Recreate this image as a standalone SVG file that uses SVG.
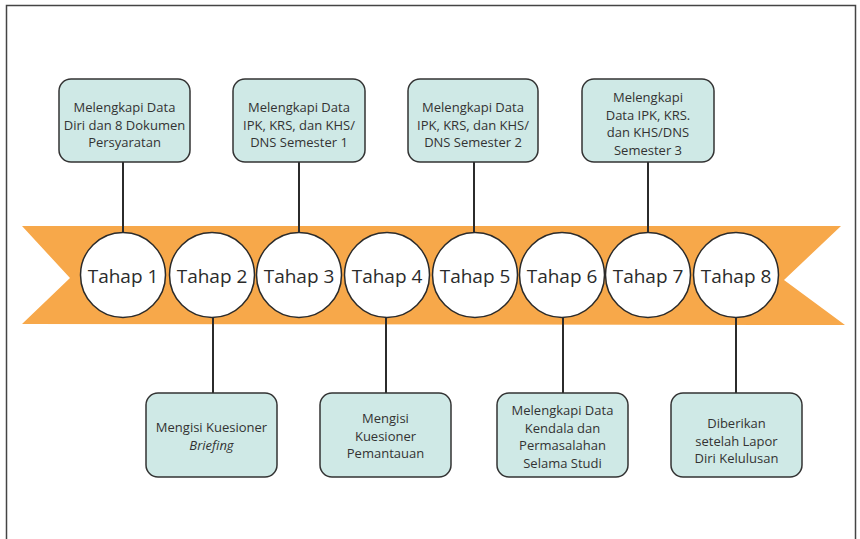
<svg xmlns="http://www.w3.org/2000/svg" width="860" height="539" viewBox="0 0 860 539">
<style>
.box{fill:#cfe9e6;stroke:#333;stroke-width:1.5}
.circ{fill:#fff;stroke:#2b2b2b;stroke-width:1.5}
.lbl{font-family:"Open Sans","Noto Sans",sans-serif;font-size:13px;fill:#333;text-anchor:middle}
.tah{font-family:"Open Sans","Noto Sans",sans-serif;font-size:19px;fill:#2b2b2b;text-anchor:middle}
.con{stroke:#2b2b2b;stroke-width:2;fill:none}
</style>
<rect width="860" height="539" fill="#fff"/>
<path d="M6.5 545 V5.5 H855.5 V545" fill="none" stroke="#444" stroke-width="1.5"/>
<polygon points="22,226 841,226 784,280 845,325 22,324 70,278" fill="#f7a84a"/>
<g id="connectors">
<line class="con" x1="123" y1="162" x2="123" y2="233"/>
<line class="con" x1="213" y1="318" x2="213" y2="393"/>
<line class="con" x1="299" y1="162" x2="299" y2="233"/>
<line class="con" x1="386" y1="318" x2="386" y2="393"/>
<line class="con" x1="474" y1="162" x2="474" y2="233"/>
<line class="con" x1="563" y1="318" x2="563" y2="393"/>
<line class="con" x1="648" y1="162" x2="648" y2="233"/>
<line class="con" x1="736" y1="318" x2="736" y2="393"/>
</g>
<g id="tahap1"><circle class="circ" cx="123" cy="275" r="42.5"/><text class="tah" x="123" y="283">Tahap 1</text></g>
<g id="tahap2"><circle class="circ" cx="212" cy="275" r="42.5"/><text class="tah" x="212" y="283">Tahap 2</text></g>
<g id="tahap3"><circle class="circ" cx="299" cy="275" r="42.5"/><text class="tah" x="299" y="283">Tahap 3</text></g>
<g id="tahap4"><circle class="circ" cx="387" cy="275" r="42.5"/><text class="tah" x="387" y="283">Tahap 4</text></g>
<g id="tahap5"><circle class="circ" cx="475" cy="275" r="42.5"/><text class="tah" x="475" y="283">Tahap 5</text></g>
<g id="tahap6"><circle class="circ" cx="562" cy="275" r="42.5"/><text class="tah" x="562" y="283">Tahap 6</text></g>
<g id="tahap7"><circle class="circ" cx="648" cy="275" r="42.5"/><text class="tah" x="648" y="283">Tahap 7</text></g>
<g id="tahap8"><circle class="circ" cx="736" cy="275" r="42.5"/><text class="tah" x="736" y="283">Tahap 8</text></g>
<g id="box1"><rect class="box" x="59" y="79" width="131" height="83" rx="12"/>
<text class="lbl" x="124.5" y="112">Melengkapi Data</text><text class="lbl" x="124.5" y="129.5">Diri dan 8 Dokumen</text><text class="lbl" x="124.5" y="147">Persyaratan</text></g>
<g id="box3"><rect class="box" x="233" y="79" width="132" height="83" rx="12"/>
<text class="lbl" x="299" y="112">Melengkapi Data</text><text class="lbl" x="299" y="129.5">IPK, KRS, dan KHS/</text><text class="lbl" x="299" y="147">DNS Semester 1</text></g>
<g id="box5"><rect class="box" x="408" y="79" width="130" height="83" rx="12"/>
<text class="lbl" x="473" y="112">Melengkapi Data</text><text class="lbl" x="473" y="129.5">IPK, KRS, dan KHS/</text><text class="lbl" x="473" y="147">DNS Semester 2</text></g>
<g id="box7"><rect class="box" x="582" y="79" width="132" height="83" rx="12"/>
<text class="lbl" x="648" y="102">Melengkapi</text><text class="lbl" x="648" y="119.5">Data IPK, KRS.</text><text class="lbl" x="648" y="137">dan KHS/DNS</text><text class="lbl" x="648" y="154.5">Semester 3</text></g>
<g id="box2"><rect class="box" x="146" y="393" width="131" height="84" rx="12"/>
<text class="lbl" x="211.5" y="432">Mengisi Kuesioner</text><text class="lbl" x="211.5" y="449.5" font-style="italic">Briefing</text></g>
<g id="box4"><rect class="box" x="320" y="393" width="131" height="84" rx="12"/>
<text class="lbl" x="385.5" y="423">Mengisi</text><text class="lbl" x="385.5" y="440.5">Kuesioner</text><text class="lbl" x="385.5" y="458">Pemantauan</text></g>
<g id="box6"><rect class="box" x="497" y="393" width="131" height="84" rx="12"/>
<text class="lbl" x="562.5" y="415">Melengkapi Data</text><text class="lbl" x="562.5" y="432.5">Kendala dan</text><text class="lbl" x="562.5" y="450">Permasalahan</text><text class="lbl" x="562.5" y="467.5">Selama Studi</text></g>
<g id="box8"><rect class="box" x="671" y="393" width="131" height="84" rx="12"/>
<text class="lbl" x="736.5" y="428">Diberikan</text><text class="lbl" x="736.5" y="445.5">setelah Lapor</text><text class="lbl" x="736.5" y="463">Diri Kelulusan</text></g>
</svg>
